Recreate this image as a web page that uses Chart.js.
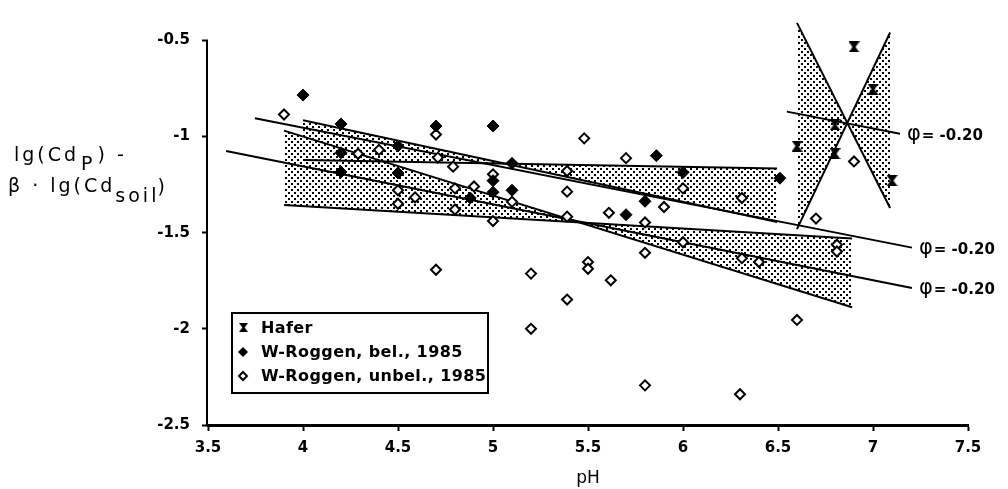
<!DOCTYPE html>
<html>
<head>
<meta charset="utf-8">
<title>Cd vs pH</title>
<script src="https://cdn.jsdelivr.net/npm/chart.js@4.4.0/dist/chart.umd.min.js"></script>
<style>
  html, body { margin: 0; padding: 0; background: #fff; }
  #wrap { position: relative; width: 1008px; height: 489px; }
</style>
</head>
<body>
<div id="wrap"><canvas id="chart"></canvas></div>
<script>
// points: [pH, lg(Cd_P) - beta * lg(Cd_soil)]
const hafer = [[6.6, -1.05], [6.8, -0.94], [6.8, -1.09], [6.9, -0.535], [7.0, -0.755], [7.1, -1.23]];
const roggenBel = [
    [4.0, -0.785], [4.2, -0.935], [4.2, -1.085], [4.2, -1.185], [4.5, -1.05], [4.5, -1.19],
    [4.7, -0.946], [4.88, -1.32], [5.0, -0.946], [5.0, -1.23], [5.0, -1.29], [5.1, -1.14],
    [5.1, -1.28], [5.7, -1.407], [5.8, -1.337], [5.86, -1.10], [6.0, -1.187], [6.51, -1.217]
];
const roggenUnbel = [
    [3.9, -0.886], [4.29, -1.09], [4.4, -1.07], [4.5, -1.28], [4.5, -1.35], [4.59, -1.317],
    [4.7, -0.99], [4.71, -1.11], [4.7, -1.693], [4.79, -1.157], [4.8, -1.27], [4.8, -1.38],
    [4.9, -1.26], [5.0, -1.197], [5.0, -1.44], [5.1, -1.34], [5.2, -1.713], [5.2, -2.0],
    [5.39, -1.18], [5.39, -1.287], [5.39, -1.417], [5.39, -1.848], [5.48, -1.01], [5.5, -1.653],
    [5.5, -1.688], [5.61, -1.397], [5.62, -1.748], [5.7, -1.113], [5.8, -1.447], [5.8, -1.605],
    [5.8, -2.294], [5.9, -1.367], [6.0, -1.27], [6.0, -1.55], [6.31, -1.32], [6.31, -1.633],
    [6.4, -1.653], [6.3, -2.34], [6.6, -1.954], [6.7, -1.427], [6.81, -1.563], [6.81, -1.598],
    [6.9, -1.13]
];

// confidence bands: two crossing lines per group, shaded between them
const haferLineA = [[6.6, -0.41], [7.09, -1.372]];
const haferLineB = [[6.6, -1.482], [7.09, -0.46]];
const belLineA = [[4.0, -0.916], [6.495, -1.445]];
const belLineB = [[4.0, -1.122], [6.495, -1.167]];
const unbelLineA = [[3.9, -0.97], [6.89, -1.888]];
const unbelLineB = [[3.9, -1.357], [6.89, -1.53]];

// lines with fixed slope phi = -0.20
const haferPhi = [[6.547, -0.871], [7.142, -0.986]];
const belPhi = [[3.747, -0.906], [7.205, -1.578]];
const unbelPhi = [[3.595, -1.076], [7.205, -1.788]];

const xTicks = [3.5, 4, 4.5, 5, 5.5, 6, 6.5, 7, 7.5];
const yTicks = [-2.5, -2, -1.5, -1, -0.5];
const seriesNames = ['Hafer', 'W-Roggen, bel., 1985', 'W-Roggen, unbel., 1985'];
const phiText = '= -0.20';

const canvas = document.getElementById('chart');
const ctx0 = canvas.getContext('2d');

// stipple used for the shaded bands
function makeDots() {
    const c = document.createElement('canvas');
    c.width = 6; c.height = 6;
    const g = c.getContext('2d');
    g.fillStyle = '#000';
    g.fillRect(0, 0, 2, 2);
    g.fillRect(3, 3, 2, 2);
    return ctx0.createPattern(c, 'repeat');
}

function makeHourglass() {
    const c = document.createElement('canvas');
    c.width = 11; c.height = 11;
    const g = c.getContext('2d');
    g.fillStyle = '#000';
    g.beginPath();
    g.moveTo(0, 0); g.lineTo(11, 0); g.lineTo(7, 5.5); g.lineTo(11, 11);
    g.lineTo(0, 11); g.lineTo(4, 5.5); g.closePath();
    g.fill();
    return c;
}

const dots = makeDots();
const hourglass = makeHourglass();

function pts(arr) {
    return arr.map(p => ({ x: p[0], y: p[1] }));
}

function edge(arr, filled) {
    return {
        data: pts(arr),
        borderColor: '#000',
        borderWidth: 2,
        pointRadius: 0,
        fill: filled ? '+1' : false,
        backgroundColor: dots,
        order: 3
    };
}

function phiLine(arr) {
    return { data: pts(arr), borderColor: '#000', borderWidth: 2, pointRadius: 0, fill: false, order: 2 };
}

// axis line, y title, phi labels and the boxed legend
const extras = {
    id: 'extras',
    afterDatasetsDraw(chart) {
        const c = chart.ctx;
        const xs = chart.scales.x, ys = chart.scales.y;
        c.save();

        // y axis line only up to -0.5
        c.strokeStyle = '#000';
        c.lineWidth = 2;
        c.beginPath();
        c.moveTo(xs.left - 1, ys.getPixelForValue(yTicks[0]) + 1);
        c.lineTo(xs.left - 1, ys.getPixelForValue(yTicks[yTicks.length - 1]));
        c.stroke();

        // phi labels at the right end of each fixed slope line
        c.fillStyle = '#000';
        c.textBaseline = 'middle';
        [haferPhi, belPhi, unbelPhi].forEach(l => {
            const end = l[l.length - 1];
            const px = xs.getPixelForValue(end[0]) + 7;
            const py = ys.getPixelForValue(end[1]) + 1;
            c.font = '21px "DejaVu Sans"';
            c.fillText('φ', px, py);
            const w = c.measureText('φ').width;
            c.font = 'bold 15px "DejaVu Sans"';
            c.fillText(phiText, px + w + 1, py + 1);
        });

        // y axis title with subscripts
        c.textBaseline = 'alphabetic';
        c.font = '19px "DejaVu Sans"';
        c.letterSpacing = '3px';
        let x = 14;
        c.fillText('lg(Cd', x, 161);
        x += c.measureText('lg(Cd').width + 2;
        c.fillText('P', x, 170);
        x += c.measureText('P').width + 2;
        c.fillText(') -', x, 161);
        x = 8;
        c.fillText('β · lg(Cd', x, 192);
        x += c.measureText('β · lg(Cd').width;
        c.fillText('soil', x, 202);
        x += c.measureText('soil').width - 2;
        c.fillText(')', x, 193);
        c.letterSpacing = '0px';

        // legend box
        const bx = xs.left + 24, by = 313, bw = 256, bh = 80;
        c.fillStyle = '#fff';
        c.fillRect(bx, by, bw, bh);
        c.strokeStyle = '#000';
        c.lineWidth = 2;
        c.strokeRect(bx, by, bw, bh);
        c.fillStyle = '#000';
        c.font = 'bold 16px "DejaVu Sans"';
        c.letterSpacing = '0.4px';
        c.textBaseline = 'middle';
        const rows = [by + 15, by + 39, by + 63];
        const mx = bx + 11;
        c.drawImage(hourglass, mx - 4, rows[0] - 5, 9, 9);
        c.beginPath();
        c.moveTo(mx, rows[1] - 5); c.lineTo(mx + 5, rows[1]); c.lineTo(mx, rows[1] + 5); c.lineTo(mx - 5, rows[1]);
        c.closePath(); c.fill();
        c.beginPath();
        c.moveTo(mx, rows[2] - 4); c.lineTo(mx + 4, rows[2]); c.lineTo(mx, rows[2] + 4); c.lineTo(mx - 4, rows[2]);
        c.closePath(); c.lineWidth = 2; c.stroke();
        seriesNames.forEach((name, i) => c.fillText(name, bx + 29, rows[i] + 1));
        c.letterSpacing = '0px';

        c.restore();
    }
};

new Chart(canvas, {
    type: 'line',
    data: {
        datasets: [
            {
                label: seriesNames[0], data: pts(hafer), showLine: false, fill: false,
                pointStyle: hourglass, pointRadius: 6, order: 1
            },
            {
                label: seriesNames[1], data: pts(roggenBel), showLine: false, fill: false,
                pointStyle: 'rectRot', pointRadius: 6, pointBackgroundColor: '#000',
                pointBorderColor: '#000', pointBorderWidth: 1, order: 1
            },
            {
                label: seriesNames[2], data: pts(roggenUnbel), showLine: false, fill: false,
                pointStyle: 'rectRot', pointRadius: 5, pointBackgroundColor: '#fff',
                pointBorderColor: '#000', pointBorderWidth: 2, order: 1
            },
            edge(haferLineA, true),
            edge(haferLineB, false),
            edge(belLineA, true),
            edge(belLineB, false),
            edge(unbelLineA, true),
            edge(unbelLineB, false),
            phiLine(haferPhi),
            phiLine(belPhi),
            phiLine(unbelPhi)
        ]
    },
    options: {
        responsive: true,
        maintainAspectRatio: false,
        animation: false,
        layout: { padding: { top: 6, right: 40, bottom: 0, left: 0 } },
        plugins: {
            legend: { display: false },
            tooltip: { enabled: false }
        },
        scales: {
            x: {
                type: 'linear',
                min: 3.5,
                max: 7.5,
                afterBuildTicks: s => { s.ticks = xTicks.map(v => ({ value: v })); },
                afterFit: s => { s.height = 64; },
                grid: { drawOnChartArea: false, drawTicks: true, tickLength: 6, tickWidth: 2, color: '#000' },
                border: { display: true, color: '#000', width: 3 },
                ticks: {
                    color: '#000', padding: 8, maxRotation: 0,
                    font: { family: 'DejaVu Sans', size: 15, weight: 'bold' },
                    callback: v => String(v)
                },
                title: {
                    display: true, text: 'pH', color: '#000',
                    font: { family: 'DejaVu Sans', size: 17 },
                    padding: { top: 0, bottom: 0 }
                }
            },
            y: {
                type: 'linear',
                min: -2.5,
                max: -0.4,
                afterBuildTicks: s => { s.ticks = yTicks.map(v => ({ value: v })); },
                afterFit: s => { s.width = 208; },
                grid: { drawOnChartArea: false, drawTicks: true, tickLength: 6, tickWidth: 2, color: '#000' },
                border: { display: false },
                ticks: {
                    color: '#000', padding: 12,
                    font: { family: 'DejaVu Sans', size: 15, weight: 'bold' },
                    callback: v => String(v)
                }
            }
        }
    },
    plugins: [extras]
});
</script>
</body>
</html>
